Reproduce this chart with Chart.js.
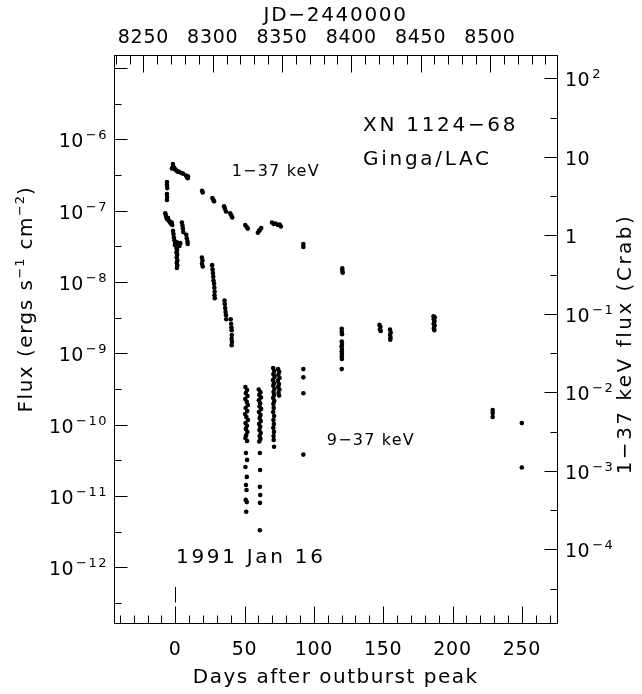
<!DOCTYPE html>
<html>
<head>
<meta charset="utf-8">
<title>XN 1124-68 Ginga/LAC light curve</title>
<script src="https://cdn.jsdelivr.net/npm/chart.js@4.4.1/dist/chart.umd.min.js"></script>
<style>
  body { margin: 0; background: #fff; }
  canvas { display: block; }
</style>
</head>
<body>
<canvas id="lc" width="642" height="694"></canvas>
<script>
// axis ranges
const dayMin = -44.2, dayMax = 275.6;
const jdOffset = 8273;                 // day 0 = JD 2448273 (1991 Jan 16)
const fluxMin = 1.67e-13, fluxMax = 1.52e-5;
const crabMin = 1.16e-5, crabMax = 198;

// tick labels
const dayTicks = [0, 50, 100, 150, 200, 250];
const jdTicks = [8250, 8300, 8350, 8400, 8450, 8500];
const fluxTickValues = [1e-12, 1e-11, 1e-10, 1e-9, 1e-8, 1e-7, 1e-6];
const fluxTickLabels = [['10', '−12'], ['10', '−11'], ['10', '−10'], ['10', '−9'], ['10', '−8'], ['10', '−7'], ['10', '−6']];
const crabTickValues = [1e2, 10, 1, 1e-1, 1e-2, 1e-3, 1e-4];
const crabTickLabels = [['10', '2'], ['10', ''], ['1', ''], ['10', '−1'], ['10', '−2'], ['10', '−3'], ['10', '−4']];

// 1-37 keV flux, [days after peak, erg/s/cm2]
const band1to37 = [
  [-6.0, 2.52e-7], [-6.0, 2.29e-7], [-5.8, 2.07e-7], [-6.0, 1.71e-7], [-5.9, 1.55e-7], [-6.0, 1.41e-7],
  [-2.4, 3.9e-7], [-1.7, 4.5e-7], [-1.6, 4.2e-7], [-1.0, 3.9e-7], [-0.8, 4.0e-7], [-0.2, 3.8e-7],
  [0.5, 3.7e-7], [1.2, 3.6e-7], [1.9, 3.5e-7], [2.7, 3.5e-7], [4.1, 3.4e-7], [5.6, 3.3e-7],
  [7.7, 3.1e-7], [8.4, 3.0e-7], [9.2, 3.0e-7], [9.0, 2.85e-7],
  [19.3, 1.9e-7], [19.8, 1.8e-7],
  [26.8, 1.5e-7], [27.4, 1.42e-7], [28.0, 1.35e-7],
  [35.2, 1.15e-7], [35.8, 1.06e-7], [36.6, 9.7e-8],
  [39.6, 9.2e-8], [40.4, 8.6e-8], [41.1, 8.0e-8],
  [50.5, 6.3e-8], [51.5, 5.9e-8], [52.3, 5.6e-8],
  [59.6, 4.9e-8], [60.4, 5.2e-8], [61.2, 5.4e-8], [62.0, 5.7e-8],
  [69.8, 6.8e-8], [71.0, 6.5e-8], [72.4, 6.6e-8], [74.0, 6.3e-8], [75.3, 6.4e-8], [76.2, 6.0e-8],
  [92.4, 3.4e-8], [92.4, 3.1e-8],
  [120.5, 1.55e-8], [120.5, 1.43e-8], [120.8, 1.35e-8],
  [147.3, 2.5e-9], [148.0, 2.35e-9],
  [154.9, 2.15e-9], [155.4, 1.95e-9],
  [186.3, 3.3e-9], [187.2, 3.2e-9], [186.5, 3.0e-9], [187.0, 2.8e-9],
  [229.0, 1.6e-10], [229.0, 1.45e-10],
  [250.0, 1.05e-10]
];

// 9-37 keV flux, [days after peak, erg/s/cm2]
const band9to37 = [
  [-7.2, 9.2e-8], [-6.8, 8.5e-8], [-6.3, 8.0e-8], [-5.8, 7.6e-8], [-5.2, 7.9e-8], [-4.6, 7.2e-8],
  [-4.0, 7.0e-8], [-3.3, 6.6e-8], [-2.6, 6.8e-8], [-2.2, 6.3e-8],
  [-1.6, 5.2e-8], [-1.3, 4.7e-8], [-1.0, 4.2e-8], [-0.6, 3.8e-8], [0.0, 3.5e-8], [0.6, 3.3e-8],
  [1.2, 3.6e-8], [1.6, 3.2e-8], [2.2, 3.4e-8], [3.0, 3.2e-8], [3.6, 3.5e-8], [-0.3, 3.3e-8],
  [0.9, 3.0e-8], [1.3, 2.8e-8], [0.9, 2.6e-8], [1.4, 2.4e-8], [1.0, 2.2e-8], [1.5, 2.0e-8],
  [1.1, 1.85e-8], [1.5, 1.7e-8], [1.2, 1.57e-8],
  [4.8, 6.8e-8], [5.2, 6.2e-8], [5.5, 5.6e-8], [5.8, 5.0e-8], [7.9, 4.6e-8], [8.3, 4.1e-8],
  [8.8, 3.7e-8], [9.0, 3.4e-8],
  [19.2, 2.2e-8], [19.6, 2.0e-8], [19.3, 1.8e-8], [19.8, 1.65e-8],
  [26.6, 1.72e-8], [26.9, 1.5e-8], [27.2, 1.33e-8], [27.4, 1.18e-8], [27.6, 1.05e-8], [28.0, 9.4e-9],
  [28.2, 8.3e-9], [28.4, 7.3e-9], [28.3, 6.5e-9], [28.5, 5.9e-9],
  [35.5, 5.5e-9], [35.7, 4.9e-9], [36.0, 4.3e-9], [36.3, 3.8e-9], [36.6, 3.4e-9], [36.8, 3.0e-9],
  [40.0, 3.0e-9], [40.3, 2.6e-9], [40.5, 2.3e-9], [40.7, 2.1e-9], [40.8, 1.8e-9], [40.6, 1.6e-9],
  [40.9, 1.45e-9], [40.7, 1.3e-9],
  [50.6, 3.37e-10], [51.8, 3.05e-10], [50.9, 2.77e-10], [52.1, 2.52e-10], [50.5, 2.29e-10], [51.6, 2.08e-10],
  [52.3, 1.88e-10], [50.8, 1.71e-10], [51.9, 1.55e-10], [50.4, 1.41e-10], [51.3, 1.28e-10], [52.4, 1.16e-10],
  [50.7, 1.05e-10], [51.7, 9.6e-11], [50.9, 8.7e-11], [52.0, 7.9e-11], [51.1, 7.1e-11], [50.6, 6.5e-11],
  [51.8, 5.9e-11],
  [51.0, 4.0e-11], [51.8, 3.2e-11], [50.6, 2.55e-11], [51.6, 1.85e-11], [51.0, 1.42e-11], [51.4, 1.21e-11],
  [50.8, 8.8e-12], [51.6, 8.2e-12], [51.2, 6.0e-12],
  [60.2, 3.1e-10], [61.4, 2.85e-10], [60.6, 2.6e-10], [61.8, 2.4e-10], [60.3, 2.2e-10], [61.2, 2.0e-10],
  [60.8, 1.8e-10], [61.9, 1.65e-10], [60.4, 1.5e-10], [61.5, 1.36e-10], [60.9, 1.24e-10], [61.7, 1.12e-10],
  [60.5, 1.02e-10], [61.3, 9.3e-11], [60.7, 8.4e-11], [61.6, 7.6e-11], [60.9, 6.9e-11], [61.4, 6.3e-11],
  [60.6, 5.8e-11],
  [61.0, 4.0e-11], [61.2, 2.31e-11], [61.0, 1.34e-11], [61.3, 1.03e-11], [61.1, 8.0e-12], [61.0, 3.3e-12],
  [70.6, 6.2e-10], [71.4, 5.65e-10], [70.8, 5.1e-10], [71.6, 4.65e-10], [70.5, 4.2e-10], [71.2, 3.8e-10],
  [70.7, 3.5e-10], [71.5, 3.16e-10], [70.9, 2.87e-10], [71.3, 2.6e-10], [70.6, 2.37e-10], [71.4, 2.15e-10],
  [70.8, 1.95e-10], [71.0, 1.71e-10], [70.6, 1.5e-10], [71.3, 1.32e-10], [70.8, 1.16e-10], [71.1, 1.02e-10],
  [70.7, 9.0e-11], [71.2, 7.9e-11], [70.9, 6.9e-11], [71.0, 6.1e-11], [71.3, 4.9e-11],
  [74.2, 6.0e-10], [75.0, 5.5e-10], [74.4, 5.0e-10], [75.2, 4.5e-10], [74.0, 4.1e-10], [74.8, 3.7e-10],
  [74.3, 3.4e-10], [75.1, 3.1e-10], [74.5, 2.8e-10], [74.9, 2.55e-10],
  [92.4, 6.0e-10], [92.4, 4.6e-10], [92.4, 2.75e-10], [92.4, 3.8e-11],
  [120.1, 2.2e-9], [120.1, 2.0e-9], [120.3, 1.85e-9], [120.1, 1.46e-9], [120.3, 1.35e-9], [120.0, 1.25e-9],
  [120.2, 1.15e-9], [120.1, 1.06e-9], [120.2, 9.8e-10], [120.1, 9.0e-10], [120.2, 8.3e-10], [120.1, 6.0e-10],
  [147.6, 2.15e-9], [148.2, 2.05e-9],
  [155.0, 1.8e-9], [155.3, 1.65e-9], [155.1, 1.55e-9],
  [186.4, 2.6e-9], [187.1, 2.45e-9], [186.6, 2.25e-9], [186.9, 2.1e-9],
  [229.0, 1.28e-10],
  [250.0, 2.5e-11]
];

// text notes, anchored in data units (left edge, vertical middle)
const titleNotes = [['XN 1124−68', 135.5, 1.54e-6], ['Ginga/LAC', 135.5, 5.1e-7], ['1991 Jan 16', 0.5, 1.37e-12]];
const bandNotes = [['1−37 keV', 40.7, 3.5e-7], ['9−37 keV', 109.3, 6.0e-11]];
// outburst peak marker under the date
const peakMarker = [0, 3.2e-13, 5.3e-13];

const FONT = '"DejaVu Sans", sans-serif';
const toXY = arr => arr.map(p => ({ x: p[0], y: p[1] }));

function setFont(ctx, size, spacing) {
  ctx.font = size + 'px ' + FONT;
  ctx.letterSpacing = spacing + 'px';
}

// "10" with a raised exponent at tick pixel (x, y)
function drawPower(ctx, base, sup, x, y, align) {
  setFont(ctx, 19, 0.5);
  const wb = ctx.measureText(base).width;
  setFont(ctx, 13, 1.5);
  const ws = sup ? ctx.measureText(sup).width + 2 : 0;
  const x0 = align === 'right' ? x - wb - ws : x;
  ctx.textAlign = 'left';
  ctx.textBaseline = 'alphabetic';
  setFont(ctx, 19, 0.5);
  ctx.fillText(base, x0, y + 8);
  if (sup) {
    setFont(ctx, 13, 1.5);
    ctx.fillText(sup, x0 + wb + 2, y);
  }
}

// rotated text made of [text, isSuperscript] pieces, centred at (cx, cy)
function drawRotated(ctx, pieces, cx, cy, size, spacing) {
  const widths = pieces.map(([t, sup]) => {
    setFont(ctx, sup ? 13 : size, sup ? 1 : spacing);
    return ctx.measureText(t).width;
  });
  const total = widths.reduce((s, w) => s + w, 0);
  ctx.save();
  ctx.translate(cx, cy);
  ctx.rotate(-Math.PI / 2);
  ctx.textAlign = 'left';
  ctx.textBaseline = 'alphabetic';
  let x = -total / 2;
  pieces.forEach(([t, sup], i) => {
    setFont(ctx, sup ? 13 : size, sup ? 1 : spacing);
    ctx.fillText(t, x, sup ? -1 : 7);
    x += widths[i];
  });
  ctx.restore();
}

const frameAxes = {
  id: 'frameAxes',
  afterDraw(chart) {
    const { ctx, chartArea: a } = chart;
    const sx = chart.scales.x, sj = chart.scales.jd, sy = chart.scales.y, sc = chart.scales.crab;
    const snap = v => Math.round(v) + 0.5;
    const line = (x1, y1, x2, y2) => { ctx.beginPath(); ctx.moveTo(x1, y1); ctx.lineTo(x2, y2); ctx.stroke(); };

    ctx.save();
    ctx.strokeStyle = '#000';
    ctx.fillStyle = '#000';
    ctx.lineWidth = 1;
    const L = snap(a.left), R = snap(a.right), T = snap(a.top), B = snap(a.bottom);
    ctx.strokeRect(L, T, R - L, B - T);

    // days: bottom axis
    for (let d = -40; d <= 270; d += 10) {
      const px = snap(sx.getPixelForValue(d));
      line(px, B, px, B - (dayTicks.includes(d) ? 17 : 8));
    }
    // JD: top axis
    for (let j = 8230; j <= 8540; j += 10) {
      const px = snap(sj.getPixelForValue(j));
      line(px, T, px, T + (jdTicks.includes(j) ? 17 : 9));
    }
    // flux: left axis, decades and half decades
    for (let k = -12.5; k <= -5; k += 0.5) {
      const py = snap(sy.getPixelForValue(Math.pow(10, k)));
      line(L, py, L + (Number.isInteger(k) ? 13 : 7), py);
    }
    // Crab: right axis
    for (let k = -4.5; k <= 2; k += 0.5) {
      const py = snap(sc.getPixelForValue(Math.pow(10, k)));
      line(R, py, R - (Number.isInteger(k) ? 13 : 7), py);
    }

    // tick labels
    ctx.textAlign = 'center';
    ctx.textBaseline = 'middle';
    setFont(ctx, 19, 0.7);
    dayTicks.forEach(d => ctx.fillText(String(d), sx.getPixelForValue(d), 650));
    jdTicks.forEach(j => ctx.fillText(String(j), sj.getPixelForValue(j), 38.5));
    fluxTickValues.forEach((v, i) => drawPower(ctx, fluxTickLabels[i][0], fluxTickLabels[i][1], 108, sy.getPixelForValue(v), 'right'));
    crabTickValues.forEach((v, i) => drawPower(ctx, crabTickLabels[i][0], crabTickLabels[i][1], 565, sc.getPixelForValue(v), 'left'));

    // axis titles
    ctx.textAlign = 'center';
    ctx.textBaseline = 'middle';
    setFont(ctx, 20, 1.5);
    ctx.fillText('Days after outburst peak', (a.left + a.right) / 2, 678);
    setFont(ctx, 20, 1.7);
    ctx.fillText('JD−2440000', (a.left + a.right) / 2, 15.5);
    drawRotated(ctx, [['Flux (ergs s', false], ['−1', true], [' cm', false], ['−2', true], [')', false]], 25, 299, 20, 1.5);
    drawRotated(ctx, [['1−37 keV flux (Crab)', false]], 624, 344, 20, 2.5);

    // notes inside the frame
    ctx.textAlign = 'left';
    ctx.textBaseline = 'middle';
    setFont(ctx, 20, 2.7);
    titleNotes.forEach(([t, d, f]) => ctx.fillText(t, sx.getPixelForValue(d), sy.getPixelForValue(f)));
    setFont(ctx, 16, 1.2);
    bandNotes.forEach(([t, d, f]) => ctx.fillText(t, sx.getPixelForValue(d), sy.getPixelForValue(f)));

    const mx = snap(sx.getPixelForValue(peakMarker[0]));
    line(mx, sy.getPixelForValue(peakMarker[1]), mx, sy.getPixelForValue(peakMarker[2]));
    ctx.restore();
  }
};

const pointStyle = { pointRadius: 2.3, pointBackgroundColor: '#000', pointBorderColor: '#000', pointBorderWidth: 0, showLine: false };

new Chart(document.getElementById('lc'), {
  type: 'scatter',
  data: {
    datasets: [
      Object.assign({ label: '1−37 keV', data: toXY(band1to37) }, pointStyle),
      Object.assign({ label: '9−37 keV', data: toXY(band9to37) }, pointStyle)
    ]
  },
  options: {
    responsive: false,
    animation: false,
    devicePixelRatio: 1,
    layout: { padding: { left: 114, right: 84.7, top: 55, bottom: 71.3 } },
    plugins: { legend: { display: false }, tooltip: { enabled: false } },
    scales: {
      x: { type: 'linear', min: dayMin, max: dayMax, display: false },
      y: { type: 'logarithmic', min: fluxMin, max: fluxMax, display: false },
      jd: { type: 'linear', axis: 'x', position: 'top', min: dayMin + jdOffset, max: dayMax + jdOffset, display: false },
      crab: { type: 'logarithmic', axis: 'y', position: 'right', min: crabMin, max: crabMax, display: false }
    }
  },
  plugins: [frameAxes]
});
</script>
</body>
</html>
